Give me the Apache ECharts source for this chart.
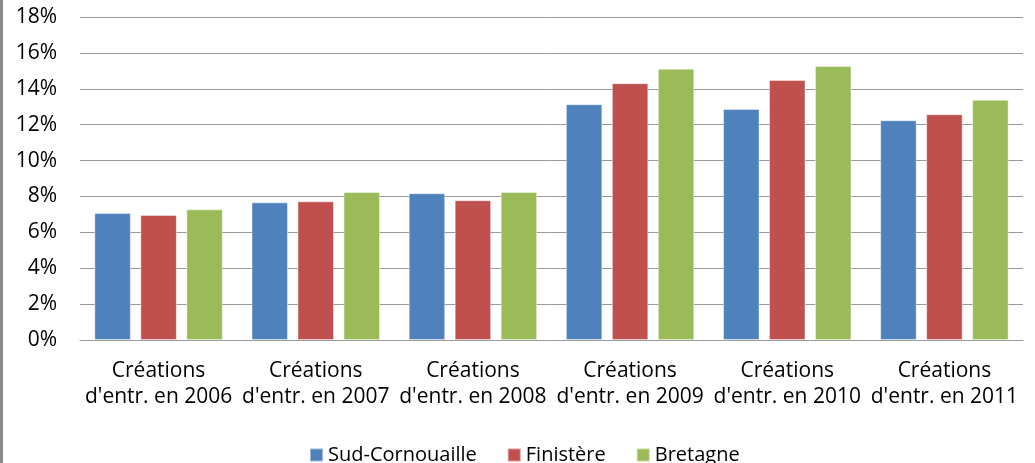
<!DOCTYPE html>
<html>
<head>
<meta charset="utf-8">
<script src="https://cdn.jsdelivr.net/npm/echarts@6/dist/echarts.min.js"></script>
<style>
html,body{margin:0;padding:0;background:#fff;}
#chart{width:1035px;height:463px;}
</style>
</head>
<body>
<div id="chart"></div>
<script>
const categories = [
  "Créations\nd'entr. en 2006",
  "Créations\nd'entr. en 2007",
  "Créations\nd'entr. en 2008",
  "Créations\nd'entr. en 2009",
  "Créations\nd'entr. en 2010",
  "Créations\nd'entr. en 2011"
];
const sudCornouaille = [7.08, 7.67, 8.18, 13.14, 12.88, 12.25];
const finistere = [6.97, 7.73, 7.79, 14.31, 14.49, 12.58];
const bretagne = [7.28, 8.25, 8.25, 15.12, 15.27, 13.39];
const seriesNames = ["Sud-Cornouaille", "Finistère", "Bretagne"];
const colors = ["#4F81BD", "#C0504D", "#9BBB59"];

const font = "'Open Sans', sans-serif";
const chart = echarts.init(document.getElementById('chart'), null, {renderer: 'canvas'});
const mk = (name, data, color) => ({
  name: name,
  type: 'bar',
  data: data,
  barWidth: 36.5,
  barGap: '26%',
  itemStyle: {color: color, borderColor: 'rgba(255,255,255,0.45)', borderWidth: 1},
  emphasis: {disabled: true}
});
chart.setOption({
  animation: false,
  backgroundColor: '#fff',
  color: colors,
  grid: {left: 80, right: 12, top: 17, bottom: 123, containLabel: false},
  legend: {
    data: seriesNames,
    left: 304,
    top: 440,
    icon: 'rect',
    itemWidth: 13,
    itemHeight: 13,
    itemGap: 30,
    textStyle: {fontFamily: font, fontSize: 20, color: '#000'}
  },
  xAxis: {
    type: 'category',
    data: categories,
    axisLine: {show: true, lineStyle: {color: '#9a9a9a', width: 1}},
    axisTick: {show: false},
    axisLabel: {fontFamily: font, fontSize: 21, color: '#000', lineHeight: 26, margin: 18, interval: 0}
  },
  yAxis: {
    type: 'value',
    min: 0,
    max: 18,
    interval: 2,
    axisLine: {show: false},
    axisTick: {show: false},
    splitLine: {lineStyle: {color: '#9a9a9a', width: 1}},
    axisLabel: {formatter: '{value}%', fontFamily: font, fontSize: 21, color: '#000', margin: 23}
  },
  graphic: [{type: 'rect', left: 0, top: 0, shape: {width: 3, height: 463}, style: {fill: '#8c8c8c'}, silent: true}],
  series: [
    mk(seriesNames[0], sudCornouaille, colors[0]),
    mk(seriesNames[1], finistere, colors[1]),
    mk(seriesNames[2], bretagne, colors[2])
  ]
});
</script>
</body>
</html>
